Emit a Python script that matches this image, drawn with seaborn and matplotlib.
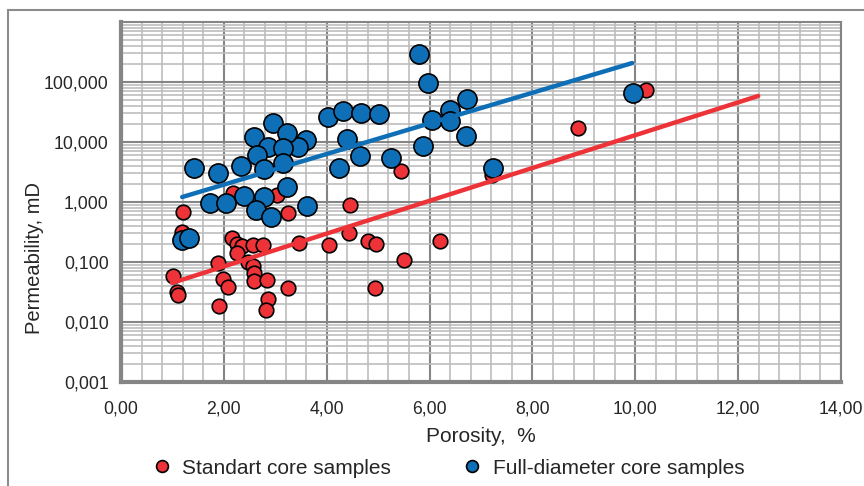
import matplotlib
matplotlib.use("Agg")
import matplotlib.pyplot as plt
import matplotlib.ticker as mticker
from matplotlib.lines import Line2D
from matplotlib.patches import Rectangle
import seaborn as sns
import numpy as np

# standart core samples
std_porosity = [1.21, 1.19, 1.01, 1.09, 1.11, 1.89, 1.98, 2.08, 1.91, 2.16, 2.25, 2.35, 2.25,
                2.47, 2.57, 2.59, 2.59, 2.57, 2.76, 2.84, 2.86, 2.82, 3.25, 3.25, 3.03, 2.18,
                3.46, 4.04, 4.45, 4.43, 4.80, 4.96, 4.94, 5.50, 6.20, 7.21, 8.89, 10.21, 5.44]
std_perm = [0.68, 0.32, 0.058, 0.032, 0.028, 0.096, 0.052, 0.038, 0.0185, 0.25, 0.2, 0.185, 0.14,
            0.1, 0.086, 0.066, 0.048, 0.19, 0.19, 0.05, 0.024, 0.016, 0.66, 0.037, 1.3, 1.4,
            0.21, 0.19, 0.89, 0.30, 0.22, 0.2, 0.037, 0.108, 0.22, 2.8, 17, 74, 3.3]

# full-diameter core samples
full_porosity = [5.79, 5.97, 9.95, 6.73, 6.40, 6.05, 6.40, 6.71, 5.87, 4.02, 4.32, 4.67, 5.02,
                 4.39, 4.65, 4.24, 5.25, 7.23, 3.60, 3.44, 1.42, 1.89, 2.33, 2.59, 2.96, 3.23,
                 2.86, 2.64, 2.78, 3.15, 3.15, 3.23, 1.73, 2.04, 2.39, 2.78, 2.62, 2.92, 3.62,
                 1.19, 1.32]
full_perm = [293, 96, 65, 52, 34, 23, 22, 12.6, 8.6, 26, 33, 30, 29,
             11.2, 5.8, 3.7, 5.4, 3.7, 10.8, 8.3, 3.7, 3.0, 4.0, 12.1, 20.7, 14,
             8.3, 6.1, 3.5, 7.9, 4.5, 1.8, 0.96, 0.96, 1.26, 1.2, 0.74, 0.56, 0.86,
             0.23, 0.25]

# exponential trend lines (end points)
std_trend_x = [0.99, 12.39]
std_trend_y = [0.0447, 58.5]
full_trend_x = [1.19, 9.94]
full_trend_y = [1.21, 207]

x_ticks = [0, 2, 4, 6, 8, 10, 12, 14]
x_labels = ["0,00", "2,00", "4,00", "6,00", "8,00", "10,00", "12,00", "14,00"]
y_ticks = [0.001, 0.01, 0.1, 1, 10, 100]
y_labels = ["0,001", "0,010", "0,100", "1,000", "10,000", "100,000"]

RED = "#EE3338"
BLUE = "#0E6FB7"
GRID_MAJ = "#858585"
GRID_MIN = "#BDBDBD"
TXT = "#262626"

sns.set_style("white")
plt.rcParams["font.family"] = ["Liberation Sans", "DejaVu Sans"]

fig = plt.figure(figsize=(8.64, 4.86), dpi=100)
ax = fig.add_axes([121 / 864, 1 - 382 / 486, 720 / 864, 360 / 486])

sns.scatterplot(x=std_porosity, y=std_perm, color=RED, s=110, edgecolor="black",
                linewidth=1.2, ax=ax, zorder=3, legend=False)
sns.scatterplot(x=full_porosity, y=full_perm, color=BLUE, s=190, edgecolor="black",
                linewidth=1.2, ax=ax, zorder=4, legend=False)
sns.lineplot(x=std_trend_x, y=std_trend_y, color=RED, linewidth=3.2, ax=ax, zorder=5)
sns.lineplot(x=full_trend_x, y=full_trend_y, color=BLUE, linewidth=3.2, ax=ax, zorder=5)

ax.set_yscale("log")
ax.set_xlim(0, 14)
ax.set_ylim(0.001, 1000)

ax.set_xticks(x_ticks)
ax.set_xticklabels(x_labels)
ax.set_yticks(y_ticks)
ax.set_yticklabels(y_labels)
ax.xaxis.set_minor_locator(mticker.MultipleLocator(0.4))
ax.yaxis.set_minor_locator(mticker.LogLocator(base=10, subs=np.arange(2, 10)))
ax.yaxis.set_minor_formatter(mticker.NullFormatter())

ax.grid(which="major", color=GRID_MAJ, linewidth=1.5, zorder=0)
ax.grid(which="minor", color=GRID_MIN, linewidth=1.2, zorder=0)
ax.set_axisbelow(True)

ax.tick_params(axis="both", which="major", direction="out", length=5, width=1.5,
               color=GRID_MAJ, labelsize=12.7, labelcolor=TXT)
ax.tick_params(axis="x", which="major", pad=8)
ax.tick_params(axis="y", which="major", pad=4)
ax.tick_params(axis="x", which="minor", direction="out", length=3, width=1, color=GRID_MAJ)
ax.tick_params(axis="y", which="minor", length=0)

for side in ["left", "bottom"]:
    ax.spines[side].set_color(GRID_MAJ)
    ax.spines[side].set_linewidth(3)
for side in ["top", "right"]:
    ax.spines[side].set_color(GRID_MAJ)
    ax.spines[side].set_linewidth(1.5)

ax.set_xlabel("Porosity,  %", fontsize=15, color=TXT, labelpad=7)
ax.set_ylabel("Permeability, mD", fontsize=14.5, color=TXT)
ax.yaxis.set_label_coords(-0.107, 0.344)

handles = [
    Line2D([], [], marker="o", linestyle="", markersize=8.5, markerfacecolor=RED,
           markeredgecolor="black", markeredgewidth=1.2, label="Standart core samples"),
    Line2D([], [], marker="o", linestyle="", markersize=8.5, markerfacecolor=BLUE,
           markeredgecolor="black", markeredgewidth=1.2, label="Full-diameter core samples"),
]
fig.legend(handles=handles, loc="center", bbox_to_anchor=(448 / 864, 1 - 468 / 486),
           ncol=2, frameon=False, fontsize=15, columnspacing=3.4, handlelength=1.0,
           handletextpad=0.5, labelcolor=TXT, borderpad=0)

# outer chart border
fig.patches.append(Rectangle((8 / 864, -0.1), 1.2, 1.1 - 10 / 486, transform=fig.transFigure,
                             fill=False, edgecolor="#8C8C8C", linewidth=1.5))

fig.savefig("out.png", dpi=100)
